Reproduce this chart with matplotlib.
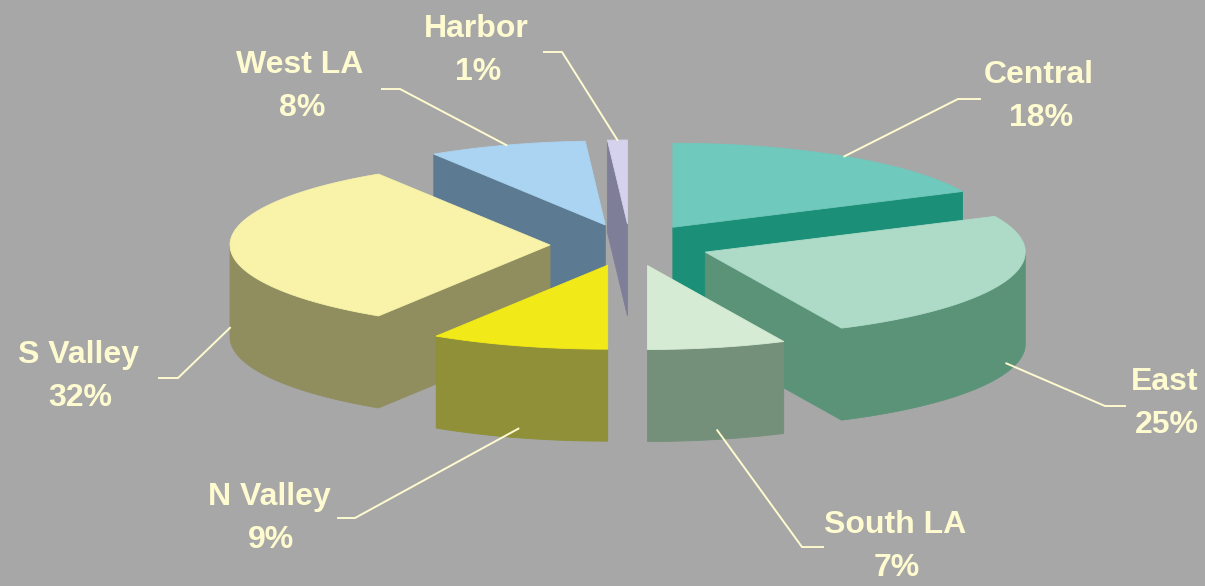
import numpy as np
import matplotlib.pyplot as plt
from matplotlib.patches import Polygon

# LAPD area share of calls, drawn as an exploded 3-D pie
regions = ['Central', 'East', 'South LA', 'N Valley', 'S Valley', 'West LA', 'Harbor']
shares = [18, 25, 7, 9, 32, 8, 1]

top_colors = ['#6FC9BC', '#AEDBC7', '#D6EBD3', '#F2EA18', '#F8F3A9', '#AAD4F1', '#D4D2EC']
side_colors = ['#1B8F77', '#5B9379', '#75907A', '#8F9037', '#908E5E', '#5C7A91', '#7E7E98']

# label centre (name line), leader elbow and leader end, in pixels
label_pos = [(1039, 75), (1165, 382), (895, 525), (269, 497), (78, 355), (300, 65), (476, 29)]
leader_elbow = [(958, 99), (1105, 406), (802, 547), (355, 518), (178, 378), (400, 89), (562, 52)]
leader_end = [(980, 99), (1125, 406), (823, 547), (338, 518), (159, 378), (382, 89), (544, 52)]

W, H = 1205, 586
BG = '#A7A7A7'
TXT = '#FFFBD0'
CX, CY = 630, 245      # pie centre on screen
RX, RY = 320, 84       # ellipse radii of the top face
DEPTH = 92             # wall height
EXPLODE = 0.25


def rim(theta, off, r=1.0, dz=0.0):
    t = np.radians(theta)
    return (CX + off[0] + r * RX * np.cos(t), CY + off[1] - r * RY * np.sin(t) + dz)


def front_intervals(lo, hi):
    # parts of [lo, hi] whose outer wall faces the viewer (sin < 0)
    out = []
    for k in (-1, 0, 1):
        a, b = max(lo, -180 + 360 * k), min(hi, 360 * k)
        if b > a:
            out.append((a, b))
    return out


fig = plt.figure(figsize=(W / 100, H / 100), dpi=100, facecolor=BG)
ax = fig.add_axes([0, 0, 1, 1])
ax.set_xlim(0, W)
ax.set_ylim(H, 0)
ax.axis('off')
ax.set_facecolor(BG)

slices = []
hi = 90.0
for i, s in enumerate(shares):
    lo = hi - s * 3.6
    mid = (lo + hi) / 2
    m = np.radians(mid)
    off = (EXPLODE * RX * np.cos(m), -EXPLODE * RY * np.sin(m))
    slices.append((i, lo, hi, mid, off))
    hi = lo

# back slices first
for i, lo, hi, mid, off in sorted(slices, key=lambda s: -np.sin(np.radians(s[3]))):
    apex = (CX + off[0], CY + off[1])
    apex_low = (apex[0], apex[1] + DEPTH)
    kw = dict(facecolor=side_colors[i], edgecolor=side_colors[i], lw=0.6)

    # radial walls
    for ang, visible in ((hi, np.cos(np.radians(hi)) < -1e-9),
                         (lo, np.cos(np.radians(lo)) > 1e-9)):
        if visible:
            pts = [apex, rim(ang, off), rim(ang, off, dz=DEPTH), apex_low]
            ax.add_patch(Polygon(pts, closed=True, **kw))

    # curved outer wall
    for a, b in front_intervals(lo, hi):
        th = np.linspace(a, b, 80)
        upper = [rim(t, off) for t in th]
        lower = [rim(t, off, dz=DEPTH) for t in th[::-1]]
        ax.add_patch(Polygon(upper + lower, closed=True, **kw))

    # top face
    th = np.linspace(lo, hi, 120)
    top = [apex] + [rim(t, off) for t in th]
    ax.add_patch(Polygon(top, closed=True, facecolor=top_colors[i],
                         edgecolor=top_colors[i], lw=0.6))

# labels with leader lines
for i, lo, hi, mid, off in slices:
    front = np.sin(np.radians(mid)) < 0
    start = rim(mid, off, dz=0.9 * DEPTH if front else 0.0)
    xs = [start[0], leader_elbow[i][0], leader_end[i][0]]
    ys = [start[1], leader_elbow[i][1], leader_end[i][1]]
    ax.plot(xs, ys, color=TXT, lw=1.4, solid_joinstyle='miter')
    x, y = label_pos[i]
    font = dict(color=TXT, fontsize=23, fontweight='bold',
                family=['Liberation Sans', 'DejaVu Sans'], ha='center', va='center')
    ax.text(x, y, regions[i], **font)
    ax.text(x + 2, y + 43, f'{shares[i]}%', **font)

fig.savefig('out.png', dpi=100, facecolor=BG)
